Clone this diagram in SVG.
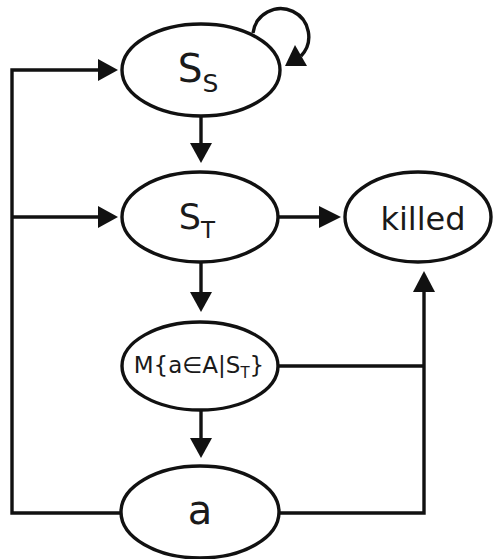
<svg xmlns="http://www.w3.org/2000/svg" width="501" height="559" viewBox="0 0 501 559">
<style>
.n{fill:#fff;stroke:#111;stroke-width:3.4}
.t{font-family:"DejaVu Sans",sans-serif;fill:#1a1a1a}
.c{fill:none;stroke:#111;stroke-width:3.4}
.h{fill:#111}
</style>
<rect width="501" height="559" fill="#fff"/>
<g id="connectors">
<path class="c" d="M201 116 V145"/>
<polygon class="h" points="190,143 212,143 201,163"/>
<path class="c" d="M279 217 H320"/>
<polygon class="h" points="319,206 319,228 341,217"/>
<path class="c" d="M201 262 V294"/>
<polygon class="h" points="190,292 212,292 201,312"/>
<path class="c" d="M201 411 V440"/>
<polygon class="h" points="190,438 212,438 201,458"/>
<path class="c" d="M121 513 H12 V70 H100"/>
<polygon class="h" points="98,59 98,81 118,70"/>
<path class="c" d="M12 217 H100"/>
<polygon class="h" points="98,206 98,228 118,217"/>
<path class="c" d="M279 513 H424 V290"/>
<polygon class="h" points="413,292 435,292 424,271"/>
<path class="c" d="M278 366 H424"/>
<path class="c" d="M253 33 A28 28 0 1 1 301 56"/>
<polygon class="h" points="285,66 307,66 295,45"/>
</g>
<g id="SS">
<ellipse class="n" cx="201" cy="70" rx="79" ry="46"/>
<text class="t" x="198" y="82" font-size="39" text-anchor="middle">S<tspan font-size="25" dy="10">S</tspan></text>
</g>
<g id="ST">
<ellipse class="n" cx="200" cy="217" rx="78" ry="45"/>
<text class="t" x="197" y="229" font-size="35" text-anchor="middle">S<tspan font-size="23" dy="9">T</tspan></text>
</g>
<g id="killed">
<ellipse class="n" cx="418" cy="217" rx="73" ry="45"/>
<text class="t" x="423" y="230" font-size="32" text-anchor="middle">killed</text>
</g>
<g id="M">
<ellipse class="n" cx="200" cy="366" rx="78" ry="44"/>
<text class="t" x="199" y="373" font-size="23" text-anchor="middle">M{a∈A|S<tspan font-size="15" dy="5">T</tspan><tspan dy="-5">}</tspan></text>
</g>
<g id="a">
<ellipse class="n" cx="200" cy="512" rx="79" ry="46"/>
<text class="t" x="200" y="524" font-size="40" text-anchor="middle">a</text>
</g>
</svg>
